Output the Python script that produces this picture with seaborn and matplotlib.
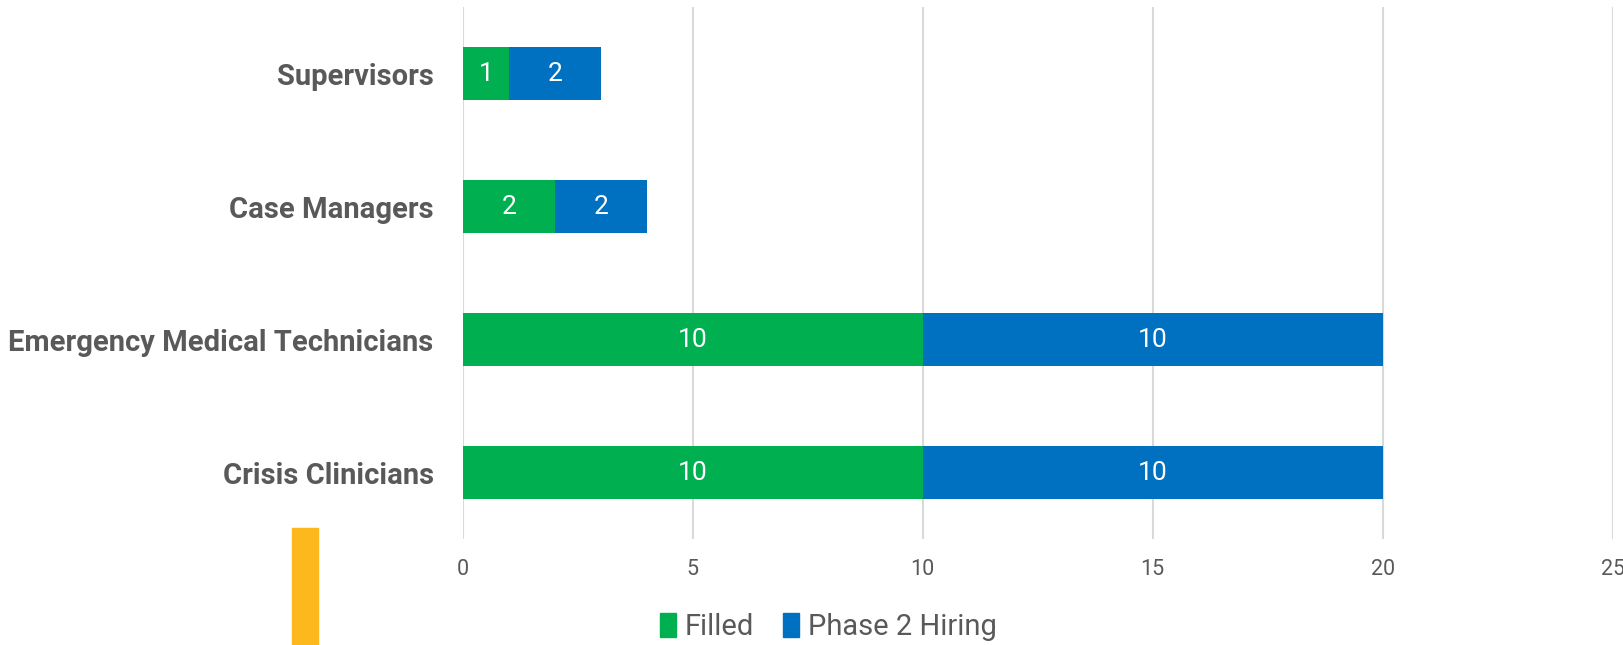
import pandas as pd
import matplotlib.pyplot as plt
import matplotlib.patches as mpatches
import seaborn as sns

# chart values
roles = ["Supervisors", "Case Managers", "Emergency Medical Technicians", "Crisis Clinicians"]
filled = [1, 2, 10, 10]
phase2 = [2, 2, 10, 10]
x_ticks = [0, 5, 10, 15, 20, 25]

green = "#00B050"
blue = "#0070C0"
grey = "#595959"

df = pd.DataFrame({"role": roles, "Filled": filled, "Phase 2 Hiring": phase2})
df["total"] = df["Filled"] + df["Phase 2 Hiring"]

sns.set_style("white")
plt.rcParams["font.family"] = ["Roboto", "DejaVu Sans"]

fig = plt.figure(figsize=(16.24, 6.45), dpi=100)
ax = fig.add_axes([0.285, 0.164, 0.708, 0.825])

# total bar in blue, filled part drawn over it in green -> stacked look
sns.barplot(data=df, x="total", y="role", color=blue, width=0.4, saturation=1,
            linewidth=0, ax=ax, zorder=3)
sns.barplot(data=df, x="Filled", y="role", color=green, width=0.4, saturation=1,
            linewidth=0, ax=ax, zorder=3)

for i, (f, p) in enumerate(zip(filled, phase2)):
    ax.text(f / 2, i, str(f), ha="center", va="center", color="white", fontsize=19, zorder=4)
    ax.text(f + p / 2, i, str(p), ha="center", va="center", color="white", fontsize=19, zorder=4)

ax.set_xlim(0, 25)
ax.set_xticks(x_ticks)
ax.set_xticklabels([str(t) for t in x_ticks], color=grey, fontsize=15.5)
ax.set_yticklabels(roles, color=grey, fontsize=21, fontweight="bold")
ax.set_xlabel("")
ax.set_ylabel("")
ax.tick_params(axis="both", length=0)
ax.tick_params(axis="x", pad=14)
ax.tick_params(axis="y", pad=21)
ax.grid(axis="x", color="#D9D9D9", linewidth=1.5, zorder=0)
ax.set_axisbelow(True)
for s in ax.spines.values():
    s.set_visible(False)

handles = [mpatches.Patch(color=green, label="Filled"),
           mpatches.Patch(color=blue, label="Phase 2 Hiring")]
leg = fig.legend(handles=handles, loc="center", bbox_to_anchor=(0.51, 0.028), ncol=2,
                 frameon=False, fontsize=21, handlelength=0.55, handleheight=0.9,
                 handletextpad=0.3, columnspacing=1.0)
for t in leg.get_texts():
    t.set_color(grey)

# yellow accent bar bottom-left
fig.patches.append(mpatches.Rectangle((292 / 1624, 0), 26 / 1624, 117 / 645,
                                      transform=fig.transFigure, color="#FDB81E", zorder=5))

fig.savefig("out.png", dpi=100)
